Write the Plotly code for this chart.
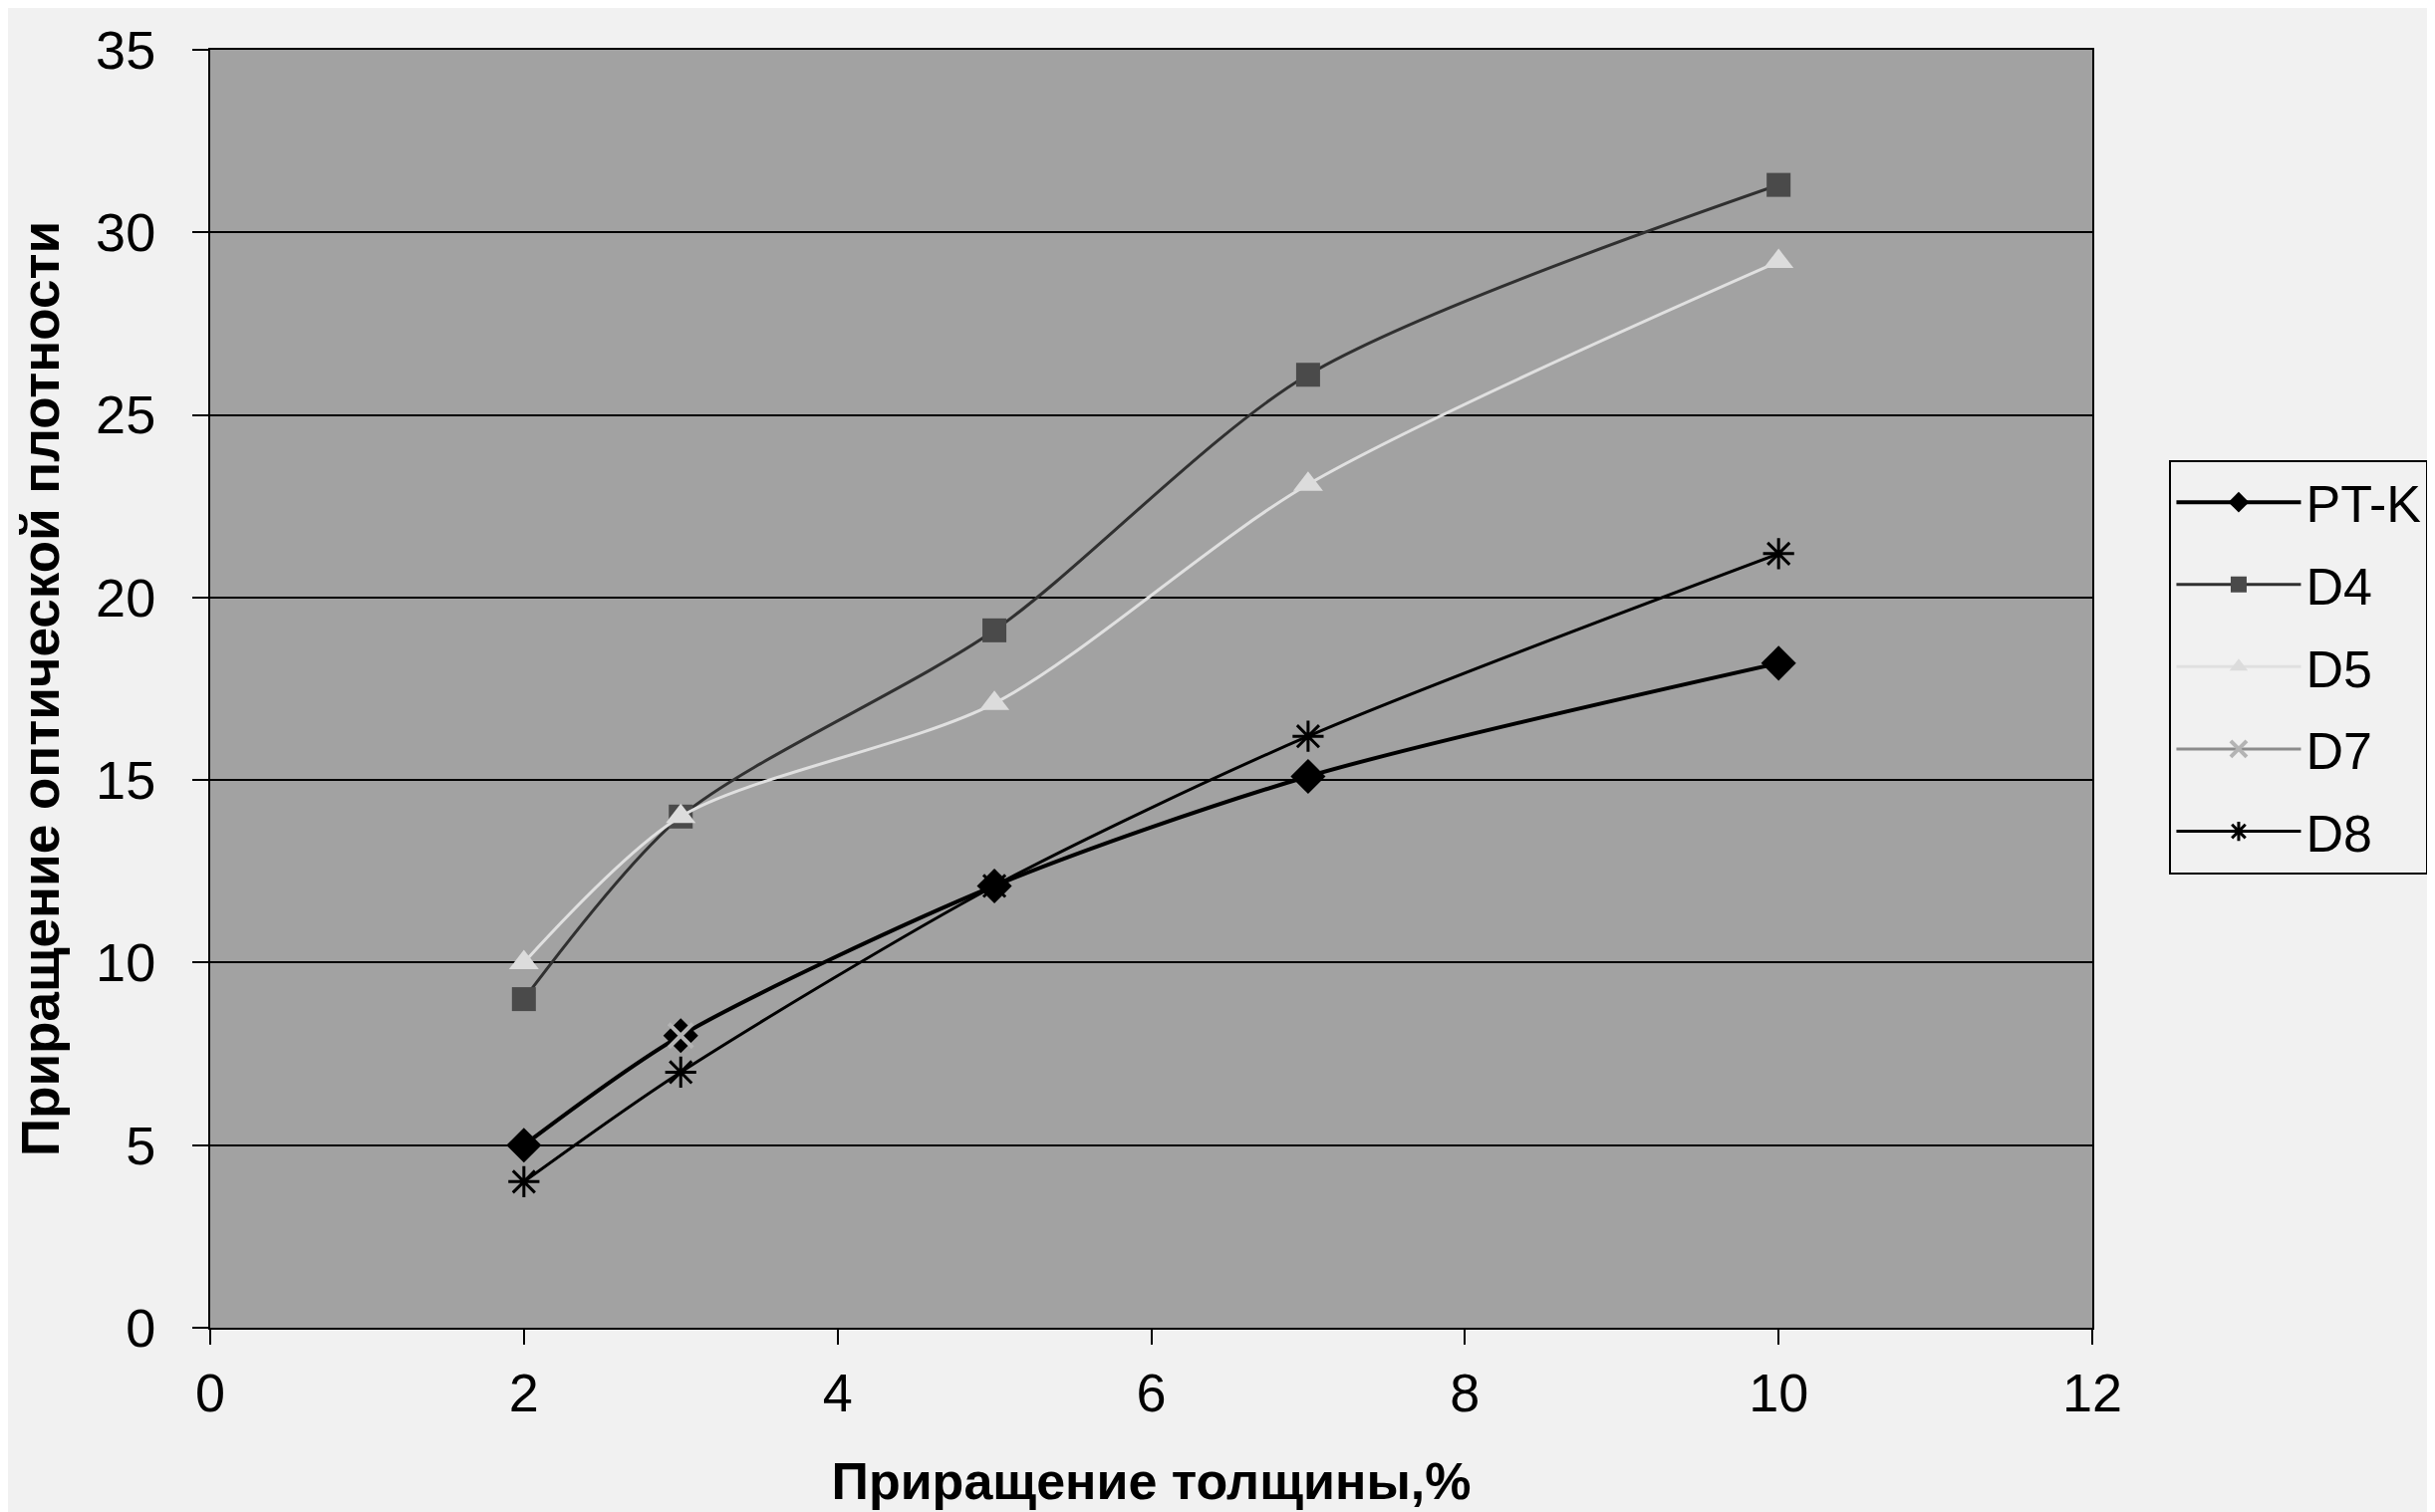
import plotly.graph_objects as go

x_vals = [2, 3, 5, 7, 10]
pt_k = [5.0, 8.0, 12.1, 15.1, 18.2]
d4 = [9.0, 14.0, 19.1, 26.1, 31.3]
d5 = [10.0, 14.0, 17.1, 23.1, 29.2]
d7 = [None, 8.0, None, None, None]
d8 = [4.0, 7.0, 12.1, 16.2, 21.2]

x_ticks = [0, 2, 4, 6, 8, 10, 12]
y_ticks = [0, 5, 10, 15, 20, 25, 30, 35]

x_title = "Приращение толщины,%"
y_title = "Приращение оптической плотности"

FONT = "Liberation Sans, Arial, sans-serif"

series = [
    ("PT-K", pt_k, dict(color="#000000", width=4), dict(symbol="diamond", size=27, color="#000000")),
    ("D4", d4, dict(color="#303030", width=3), dict(symbol="square", size=24, color="#4a4a4a")),
    ("D5", d5, dict(color="#e0e0e0", width=3), dict(symbol="triangle-up", size=26, color="#dcdcdc")),
    ("D7", d7, dict(color="#8c8c8c", width=3), dict(symbol="x-thin-open", size=24, color="#b4b4b4", line=dict(width=4, color="#b4b4b4"))),
    ("D8", d8, dict(color="#000000", width=3), dict(symbol="asterisk-open", size=26, color="#000000", line=dict(width=3, color="#000000"))),
]

fig = go.Figure()
for name, ys, line, marker in series:
    line = dict(line, shape="spline", smoothing=0.8)
    fig.add_trace(go.Scatter(
        x=x_vals, y=ys, name=name, mode="lines+markers",
        line=line, marker=marker, legendgroup=name, connectgaps=False,
    ))

fig.update_layout(
    width=2444, height=1518,
    margin=dict(l=203, r=352, t=39, b=193),
    paper_bgcolor="#f1f1f1",
    plot_bgcolor="#a2a2a2",
    font=dict(family=FONT, color="#000000", size=54),
    showlegend=True,
    legend=dict(
        x=1.041, y=0.679, xanchor="left", yanchor="top",
        bgcolor="#f1f1f1", bordercolor="#000000", borderwidth=2,
        font=dict(family=FONT, size=52, color="#000000"),
        tracegroupgap=12, itemwidth=125,
    ),
)

fig.update_xaxes(
    range=[0, 12], tickvals=x_ticks, ticktext=[str(v) for v in x_ticks],
    showgrid=False, zeroline=False,
    showline=True, linecolor="#000000", linewidth=2, mirror=True,
    ticks="outside", ticklen=15, tickwidth=2, tickcolor="#000000",
    tickfont=dict(family=FONT, size=54), ticklabelstandoff=2,
    title=dict(text="<b>" + x_title + "</b>", font=dict(family=FONT, size=52), standoff=42),
)
fig.update_yaxes(
    range=[0, 35], tickvals=y_ticks, ticktext=[str(v) for v in y_ticks],
    showgrid=True, gridcolor="#000000", gridwidth=2, zeroline=False,
    showline=True, linecolor="#000000", linewidth=2, mirror=True,
    ticks="outside", ticklen=16, tickwidth=2, tickcolor="#000000",
    tickfont=dict(family=FONT, size=54), ticklabelstandoff=26,
    title=dict(text="<b>" + y_title + "</b>", font=dict(family=FONT, size=53), standoff=20),
)

fig.write_html("out.html")
